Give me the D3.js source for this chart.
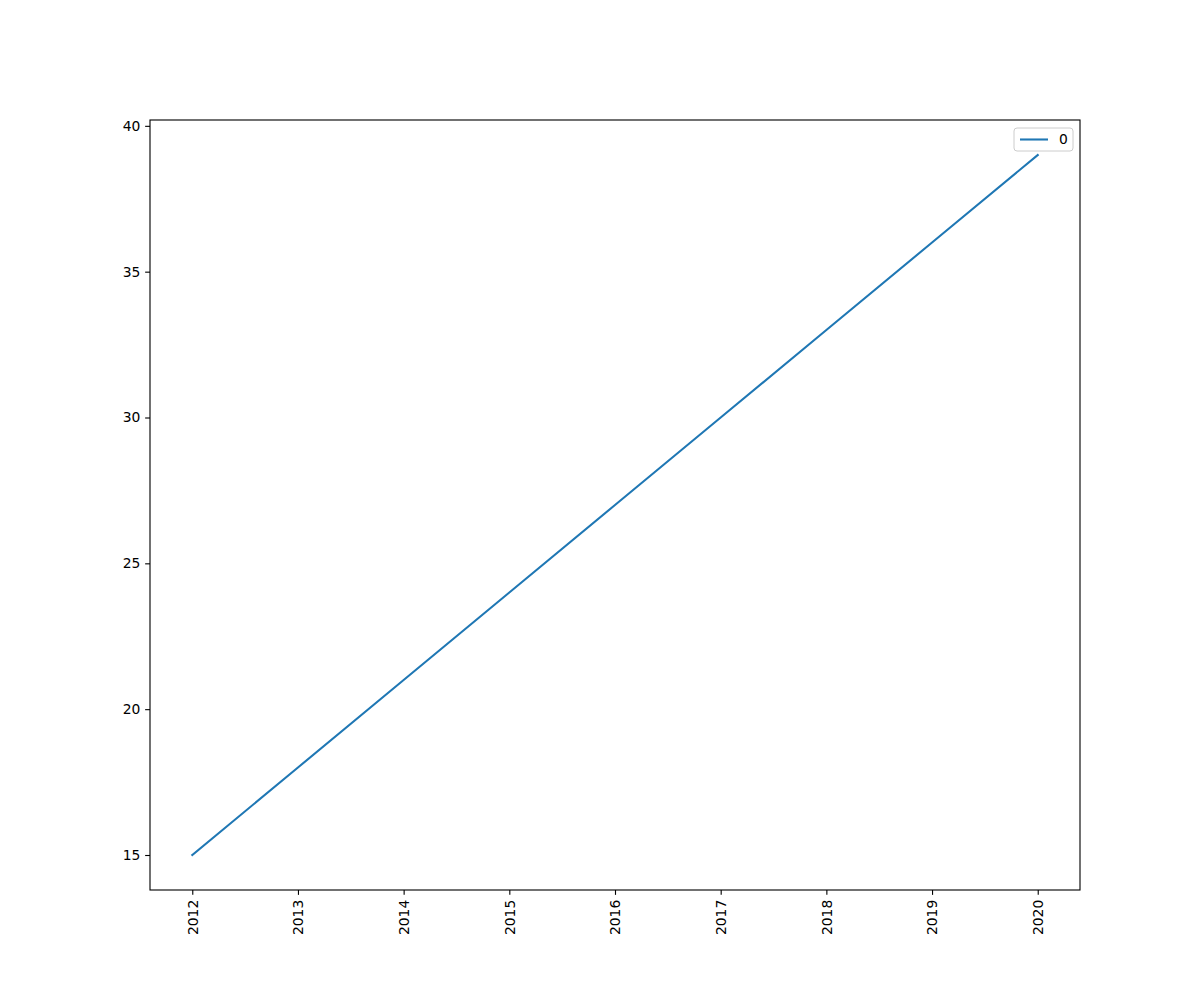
<!DOCTYPE html>
<html>
<head>
<meta charset="utf-8">
<script src="https://cdn.jsdelivr.net/npm/d3@7"></script>
<style>
  body { margin: 0; background: #fff; }
  text { font-family: "DejaVu Sans", sans-serif; }
</style>
</head>
<body>
<svg id="chart" width="1200" height="1000"></svg>
<script>
// data
let years = [2012, 2013, 2014, 2015, 2016, 2017, 2018, 2019, 2020];
let values = [15, 18, 21, 24, 27, 30, 33, 36, 39];
let yTicks = [15, 20, 25, 30, 35, 40];
let seriesName = "0";

let svg = d3.select("#chart");
let plotLeft = 150, plotRight = 1080, plotTop = 120, plotBottom = 890;
let pt = 100 / 72; // points to pixels at 100 dpi
let fontSize = 10 * pt;

// matplotlib style 5% margins
let xPad = (d3.max(years) - d3.min(years)) * 0.05;
let yPad = (d3.max(values) - d3.min(values)) * 0.05;

let xScale = d3.scaleLinear()
  .domain([d3.min(years) - xPad, d3.max(years) + xPad])
  .range([plotLeft, plotRight]);
let yScale = d3.scaleLinear()
  .domain([d3.min(values) - yPad, d3.max(values) + yPad])
  .range([plotBottom, plotTop]);

let xAxis = svg.append("g")
  .attr("transform", `translate(0,${plotBottom})`)
  .call(d3.axisBottom(xScale).tickValues(years).tickFormat(d3.format("d")).tickSize(3.5 * pt).tickPadding(3.5 * pt));
xAxis.select(".domain").remove();
xAxis.selectAll("text")
  .attr("font-size", fontSize)
  .attr("fill", "#000")
  .attr("transform", "rotate(-90)")
  .attr("text-anchor", "end")
  .attr("x", -7 * pt)
  .attr("y", 0)
  .attr("dy", "0.35em");
xAxis.selectAll("line").attr("stroke", "#000").attr("stroke-width", 0.8 * pt);

let yAxis = svg.append("g")
  .attr("transform", `translate(${plotLeft},0)`)
  .call(d3.axisLeft(yScale).tickValues(yTicks).tickSize(3.5 * pt).tickPadding(3.5 * pt));
yAxis.select(".domain").remove();
yAxis.selectAll("text").attr("font-size", fontSize).attr("fill", "#000");
yAxis.selectAll("line").attr("stroke", "#000").attr("stroke-width", 0.8 * pt);

let line = d3.line()
  .x((d, i) => xScale(years[i]))
  .y(d => yScale(d));

svg.append("path")
  .attr("d", line(values))
  .attr("fill", "none")
  .attr("stroke", "#1f77b4")
  .attr("stroke-width", 1.5 * pt)
  .attr("stroke-linecap", "square");

// frame
svg.append("rect")
  .attr("x", plotLeft).attr("y", plotTop)
  .attr("width", plotRight - plotLeft).attr("height", plotBottom - plotTop)
  .attr("fill", "none").attr("stroke", "#000").attr("stroke-width", 0.8 * pt);

// legend
let legend = svg.append("g");
legend.append("rect")
  .attr("x", 1014).attr("y", 128)
  .attr("width", 59).attr("height", 23)
  .attr("rx", 3)
  .attr("fill", "#fff").attr("fill-opacity", 0.8)
  .attr("stroke", "#cccccc").attr("stroke-width", 1);
legend.append("line")
  .attr("x1", 1020).attr("x2", 1048)
  .attr("y1", 139.5).attr("y2", 139.5)
  .attr("stroke", "#1f77b4").attr("stroke-width", 1.5 * pt);
legend.append("text")
  .attr("x", 1059).attr("y", 139.5)
  .attr("dy", "0.35em")
  .attr("font-size", fontSize)
  .text(seriesName);
</script>
</body>
</html>
